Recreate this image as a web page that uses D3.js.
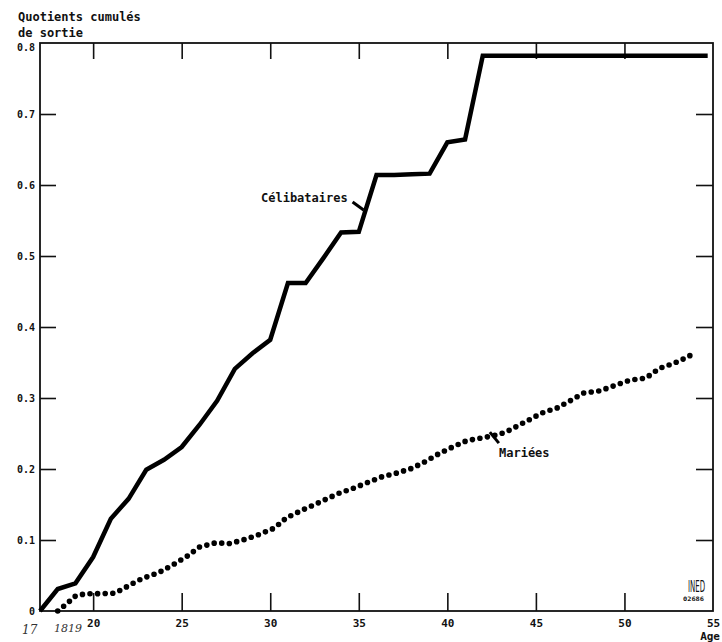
<!DOCTYPE html>
<html>
<head>
<meta charset="utf-8">
<script src="https://cdn.jsdelivr.net/npm/d3@7"></script>
<style>
    body { margin: 0; background: #fff; }
    svg { display: block; }
    text { font-family: "DejaVu Sans Mono", monospace; font-weight: bold; fill: #111; }
</style>
</head>
<body>
<svg width="722" height="642"></svg>
<script>
// Célibataires (trait plein)
const celib_ages = [17, 18, 19, 20, 21, 22, 23, 24, 25, 26, 27, 28, 29, 30, 31, 32, 33, 34, 35, 36, 37, 38, 39, 40, 41, 42, 54.7];
const celib_values = [0, 0.031, 0.039, 0.076, 0.13, 0.158, 0.199, 0.213, 0.231, 0.262, 0.296, 0.341, 0.363, 0.382, 0.462, 0.462, 0.497, 0.533, 0.534, 0.614, 0.614, 0.615, 0.616, 0.66, 0.664, 0.782, 0.782];

// Mariées (pointillé)
const mariees_ages = [18, 18.5, 19, 19.5, 21.2, 21.6, 22.1, 22.8, 23.7, 24.5, 25.3, 26, 26.9, 27.7, 28.6, 29.4, 30.25, 30.9, 31.8, 32.6, 33.8, 34.6, 35.4, 36.3, 37.1, 38, 38.8, 39.55, 40.3, 41.1, 42, 42.8, 43.3, 44.3, 45.35, 46.2, 47, 47.7, 48.6, 49.5, 50.3, 51.2, 52, 52.8, 53.6, 54];
const mariees_values = [0, 0.01, 0.021, 0.024, 0.025, 0.03, 0.037, 0.046, 0.054, 0.065, 0.077, 0.09, 0.096, 0.095, 0.101, 0.108, 0.117, 0.131, 0.142, 0.151, 0.165, 0.172, 0.18, 0.189, 0.194, 0.201, 0.211, 0.222, 0.231, 0.24, 0.244, 0.248, 0.252, 0.265, 0.279, 0.286, 0.297, 0.307, 0.31, 0.318, 0.325, 0.328, 0.342, 0.349, 0.358, 0.365];

const x_ticks = [20, 25, 30, 35, 40, 45, 50, 55];
const y_ticks = [0, 0.1, 0.2, 0.3, 0.4, 0.5, 0.6, 0.7, 0.8];
const title_lines = ["Quotients cumulés", "de sortie"];

var svg = d3.select("svg");
// attention: "top" est déjà pris par window.top
var m_left = 40, m_right = 713, m_top = 43, m_bottom = 611;

var x = d3.scaleLinear().domain([17, 55]).range([m_left, m_right]);
var y = d3.scaleLinear().domain([0, 0.8]).range([m_bottom, m_top]);

function yLabel(d) {
    return d == 0 ? "0" : d3.format(".1f")(d);
}

function styleTicks(g) {
    g.select(".domain").remove();
    g.selectAll("line").style("stroke", "#111").style("stroke-width", 1.6);
    g.selectAll("text")
        .style("font-family", "DejaVu Sans Mono")
        .style("font-weight", "bold")
        .style("fill", "#111");
}

// cadre
svg.append("rect")
    .attr("x", m_left)
    .attr("y", m_top)
    .attr("width", m_right - m_left)
    .attr("height", m_bottom - m_top)
    .style("fill", "none")
    .style("stroke", "#111")
    .style("stroke-width", 1.8);

// axe gauche, graduations vers l'intérieur
var yAxis = svg.append("g")
    .attr("transform", "translate(" + m_left + ",0)")
    .call(d3.axisLeft(y).tickValues(y_ticks).tickSizeInner(-16).tickSizeOuter(0).tickPadding(5).tickFormat(yLabel))
    .call(styleTicks);
yAxis.selectAll("text")
    .style("font-size", "10px")
    .attr("dy", function (d) { return d == 0.8 ? "0.75em" : "0.35em"; });
yAxis.selectAll(".tick").filter(function (d) { return d == 0 || d == 0.8; }).select("line").remove();

// axe droit
svg.append("g")
    .attr("transform", "translate(" + m_right + ",0)")
    .call(d3.axisRight(y).tickValues(y_ticks.slice(1, -1)).tickSizeInner(-17).tickSizeOuter(0).tickFormat(""))
    .call(styleTicks);

// axe bas
var xAxis = svg.append("g")
    .attr("transform", "translate(0," + m_bottom + ")")
    .call(d3.axisBottom(x).tickValues(x_ticks).tickSizeInner(-18).tickSizeOuter(0).tickPadding(8).tickFormat(d3.format("d")))
    .call(styleTicks);
xAxis.selectAll("text").style("font-size", "11px");
var last_tick = xAxis.selectAll(".tick").filter(function (d) { return d == 55; });
last_tick.select("line").remove();
last_tick.select("text").attr("x", 0);

// axe haut
svg.append("g")
    .attr("transform", "translate(0," + m_top + ")")
    .call(d3.axisTop(x).tickValues(x_ticks.slice(0, -1)).tickSizeInner(-16).tickSizeOuter(0).tickFormat(""))
    .call(styleTicks);

// titres
svg.append("text")
    .selectAll("tspan")
    .data(title_lines)
    .enter()
    .append("tspan")
    .attr("x", 18)
    .attr("y", function (d, i) { return 21 + i * 16; })
    .style("font-size", "12px")
    .text(function (d) { return d; });

svg.append("text")
    .attr("x", 720)
    .attr("y", 640)
    .attr("text-anchor", "end")
    .style("font-size", "11px")
    .text("Age");

// courbes
var celib = celib_ages.map(function (a, i) { return [a, celib_values[i]]; });
var mariees = mariees_ages.map(function (a, i) { return [a, mariees_values[i]]; });

var line = d3.line()
    .x(function (d) { return x(d[0]); })
    .y(function (d) { return y(d[1]); });

svg.append("path")
    .datum(celib)
    .attr("d", line)
    .style("fill", "none")
    .style("stroke", "#000")
    .style("stroke-width", 4.5)
    .style("stroke-linejoin", "miter");

svg.append("path")
    .datum(mariees)
    .attr("d", line)
    .style("fill", "none")
    .style("stroke", "#000")
    .style("stroke-width", 5.6)
    .style("stroke-linecap", "round")
    .style("stroke-dasharray", "0 7.6");

// étiquettes des courbes, avec un petit trait vers la courbe
function LabelCurve(label, tx, ty, ax, ay, dx, dy) {
    svg.append("line")
        .attr("x1", ax).attr("y1", ay)
        .attr("x2", ax + dx).attr("y2", ay + dy)
        .style("stroke", "#000")
        .style("stroke-width", 3);
    svg.append("text")
        .attr("x", tx)
        .attr("y", ty)
        .style("font-size", "12px")
        .text(label);
}

LabelCurve("Célibataires", 261, 202, x(34.65), y(0.576), 11, 8);
LabelCurve("Mariées", 499, 457, x(42.4), y(0.252), 9, 11);

// tampon INED
svg.append("text")
    .attr("x", 688)
    .attr("y", 592)
    .attr("textLength", 17)
    .attr("lengthAdjust", "spacingAndGlyphs")
    .style("font-family", "DejaVu Sans Condensed")
    .style("font-weight", "normal")
    .style("font-size", "15px")
    .text("INED");
svg.append("text")
    .attr("x", 683)
    .attr("y", 601)
    .attr("textLength", 21)
    .attr("lengthAdjust", "spacingAndGlyphs")
    .style("font-size", "6px")
    .text("02686");

// annotation manuscrite
svg.append("text")
    .attr("x", 22)
    .attr("y", 634)
    .style("font-family", "DejaVu Serif")
    .style("font-style", "italic")
    .style("font-weight", "normal")
    .style("font-size", "12px")
    .style("fill", "#333")
    .text("17");
svg.append("text")
    .attr("x", 54)
    .attr("y", 632)
    .style("font-family", "DejaVu Serif")
    .style("font-style", "italic")
    .style("font-weight", "normal")
    .style("font-size", "11px")
    .style("fill", "#333")
    .text("1819");
</script>
</body>
</html>
